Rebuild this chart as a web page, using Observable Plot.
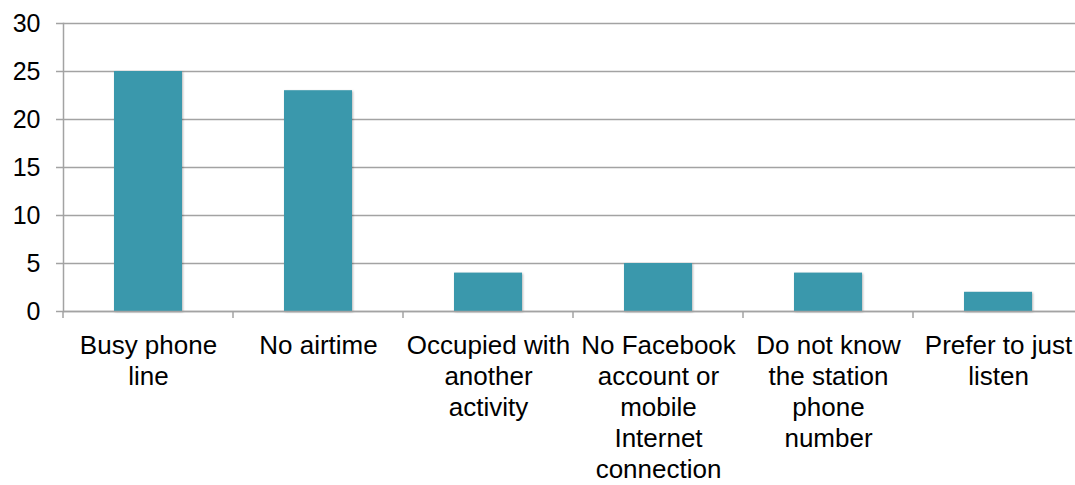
<!DOCTYPE html>
<html>
<head>
<meta charset="utf-8">
<script src="https://cdn.jsdelivr.net/npm/d3@7"></script>
<script src="https://cdn.jsdelivr.net/npm/@observablehq/plot@0.6"></script>
<style>
  html, body { margin: 0; padding: 0; background: #fff; overflow: hidden; }
  #chart svg { display: block; }
  #chart g[aria-label="bar"] rect { filter: drop-shadow(1px 1px 1.2px rgba(0,0,0,0.28)); }
</style>
</head>
<body>
<div id="chart"></div>
<script>
// Reasons for not calling in to the station
const categories = [
  "Busy phone\nline",
  "No airtime",
  "Occupied with\nanother\nactivity",
  "No Facebook\naccount or\nmobile\nInternet\nconnection",
  "Do not know\nthe station\nphone\nnumber",
  "Prefer to just\nlisten"
];
const values = [25, 23, 4, 5, 4, 2];
const yTicks = [0, 5, 10, 15, 20, 25, 30];

const data = categories.map((category, i) => ({category, value: values[i]}));

const barColor = "#3a98ac";
const lineColor = "#a3a3a3";

// Category tick marks sit on the band boundaries, not the band centres
function boundaryTicks(index, scales) {
  const x = scales.x, y = scales.y;
  const starts = categories.map(c => x(c));
  const step = starts[1] - starts[0];
  const bw = typeof x.bandwidth === "function" ? x.bandwidth() : (x.bandwidth ?? step * 0.4);
  const gap = (step - bw) / 2;
  const xs = starts.map(s => s - gap).concat([starts[starts.length - 1] + bw + gap]);
  const y0 = y(0);
  const g = d3.create("svg:g").attr("aria-label", "category-ticks");
  g.selectAll("line").data(xs).join("line")
    .attr("x1", d => d).attr("x2", d => d)
    .attr("y1", y0).attr("y2", y0 + 7)
    .attr("stroke", lineColor).attr("stroke-width", 1.5);
  return g.node();
}

const chart = Plot.plot({
  width: 1075,
  height: 485,
  marginTop: 23,
  marginBottom: 174,
  marginLeft: 63,
  marginRight: 0,
  style: {fontFamily: "'Liberation Sans', Arial, sans-serif", color: "#000", background: "#fff"},
  x: {domain: categories, range: [63, 1083], paddingInner: 0.6, paddingOuter: 0.3},
  y: {domain: [0, 30]},
  marks: [
    Plot.gridY(yTicks, {stroke: lineColor, strokeOpacity: 1, strokeWidth: 1.5}),
    Plot.barY(data, {x: "category", y: "value", fill: barColor}),
    Plot.ruleY([0], {stroke: lineColor, strokeWidth: 1.5}),
    Plot.frame({anchor: "left", stroke: lineColor, strokeWidth: 1.5}),
    Plot.axisY(yTicks, {
      tickSize: 7, tickPadding: 16, fontSize: 25,
      stroke: lineColor, strokeWidth: 1.5, fill: "#000", label: null
    }),
    Plot.axisX({
      tickSize: 0, tickPadding: 20, fontSize: 26, lineHeight: 1.2,
      fill: "#000", label: null, tickFormat: d => d
    }),
    boundaryTicks
  ]
});

document.getElementById("chart").appendChild(chart);
</script>
</body>
</html>
